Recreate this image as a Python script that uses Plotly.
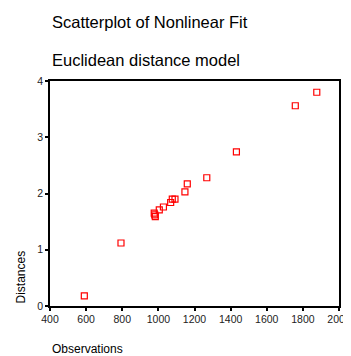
import plotly.graph_objects as go

observations = [590, 793, 977, 983, 980, 1005, 1028, 1068, 1077, 1092, 1147, 1160, 1268, 1432, 1758, 1877]
distances = [0.18, 1.12, 1.65, 1.59, 1.62, 1.71, 1.76, 1.84, 1.90, 1.90, 2.03, 2.17, 2.28, 2.74, 3.56, 3.80]

x_ticks = [400, 600, 800, 1000, 1200, 1400, 1600, 1800, 2000]
y_ticks = [0, 1, 2, 3, 4]

font_family = "Liberation Sans, Arial, sans-serif"

fig = go.Figure()
fig.add_trace(go.Scatter(
    x=observations, y=distances, mode="markers",
    marker=dict(symbol="square-open", color="#ff0000", size=6, line=dict(width=1.2, color="#ff0000")),
    showlegend=False, hoverinfo="x+y",
))

axis_common = dict(
    showline=True, linecolor="black", linewidth=1.5, mirror=True,
    showgrid=False, zeroline=False, automargin=False,
    ticks="outside", ticklen=3, tickwidth=1.5, tickcolor="black",
    tickfont=dict(family=font_family, size=10.5, color="#222"),
)
fig.update_xaxes(range=[400, 2000], tickvals=x_ticks, ticktext=[str(v) for v in x_ticks], **axis_common)
fig.update_yaxes(range=[0, 4], tickvals=y_ticks, ticktext=[str(v) for v in y_ticks], **axis_common)

anns = [
    dict(text="Scatterplot of Nonlinear Fit", x=0, y=1.262, xanchor="left", yanchor="middle",
         font=dict(size=16.5, family=font_family, color="black")),
    dict(text="Euclidean distance model", x=0, y=1.093, xanchor="left", yanchor="middle",
         font=dict(size=16.5, family=font_family, color="black")),
    dict(text="Observations", x=0, y=-0.191, xanchor="left", yanchor="middle",
         font=dict(size=12, family=font_family, color="black")),
    dict(text="Distances", x=-30 / 289, y=0, xanchor="center", yanchor="bottom", textangle=-90,
         font=dict(size=12, family=font_family, color="black")),
]
for a in anns:
    a.update(xref="paper", yref="paper", showarrow=False)

fig.update_layout(
    width=343, height=348,
    margin=dict(l=42, r=12, t=73, b=50),
    paper_bgcolor="white", plot_bgcolor="white",
    annotations=anns,
)

fig.write_html("out.html")
